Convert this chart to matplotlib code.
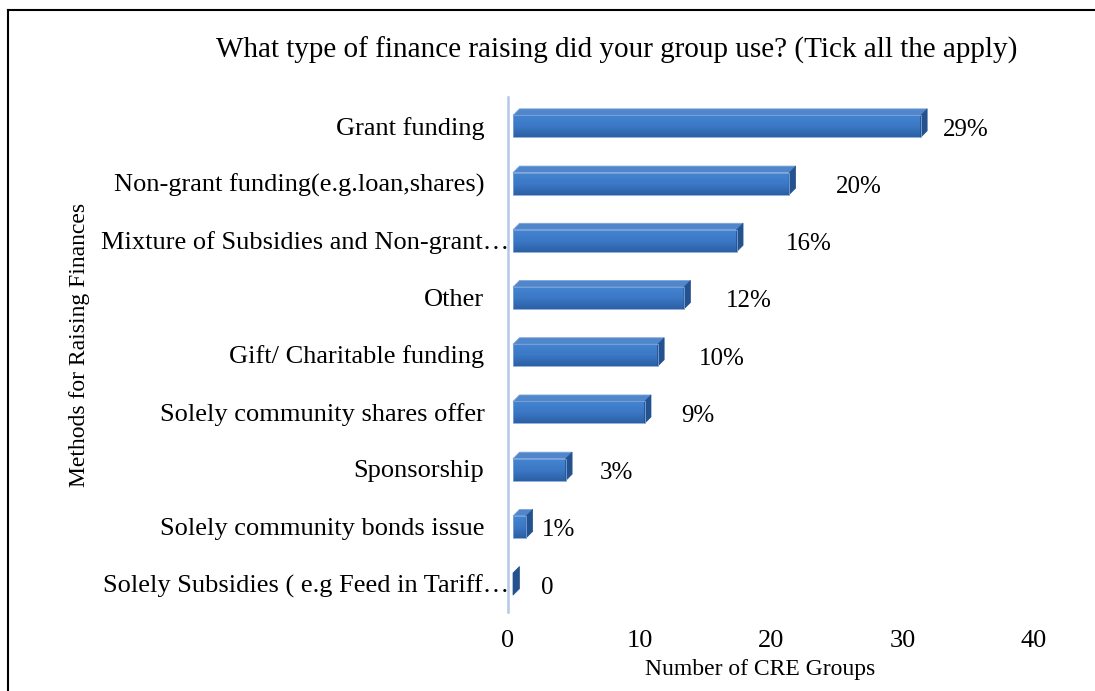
import matplotlib
matplotlib.use("Agg")
import matplotlib.pyplot as plt
import matplotlib.transforms as mtransforms
import numpy as np
from matplotlib.patches import Polygon, Rectangle
from matplotlib.lines import Line2D

plt.rcParams['font.family'] = ['Liberation Serif', 'DejaVu Serif']

categories = [
    "Grant funding",
    "Non-grant funding(e.g.loan,shares)",
    "Mixture of Subsidies and Non-grant\u2026",
    "Other",
    "Gift/ Charitable funding",
    "Solely community shares offer",
    "Sponsorship",
    "Solely community bonds issue",
    "Solely Subsidies ( e.g Feed in Tariff\u2026",
]
group_counts = [31, 21, 17, 13, 11, 10, 4, 1, 0]
share_labels = ["29%", "20%", "16%", "12%", "10%", "9%", "3%", "1%", "0"]
x_ticks = [0, 10, 20, 30, 40]

# gap (pixels) between each bar end and its data label
label_gap_px = [16, 40, 43, 35, 35, 30, 28, 9, 21]

W, H = 1095, 691
fig = plt.figure(figsize=(W / 100, H / 100), dpi=100)

ax_l, ax_r, ax_t, ax_b = 508, 1034, 97, 612
ax = fig.add_axes([ax_l / W, 1 - ax_b / H, (ax_r - ax_l) / W, (ax_b - ax_t) / H])
ax.set_xlim(0, 40)
ax.set_ylim(len(categories) - 0.5, -0.5)

px_per_x = (ax_r - ax_l) / 40.0
px_per_y = (ax_b - ax_t) / len(categories)
depth_px = 6.5
dx = depth_px / px_per_x
dy = depth_px / px_per_y
bar_h = 22.0 / px_per_y
x_shift = 5.0 / px_per_x  # small gap between wall and bar front

front_top = "#4384D0"
front_bot = "#2C5FA3"
top_col = "#4F86CC"
side_col = "#24528F"

grad = np.linspace(0, 1, 64).reshape(-1, 1)
cmap = matplotlib.colors.LinearSegmentedColormap.from_list(
    "barfront", [front_top, "#3B78C6", front_bot])

for i, v in enumerate(group_counts):
    yc = i + dy / 2 - 2.5 / px_per_y
    y0, y1 = yc - bar_h / 2, yc + bar_h / 2  # y0 = upper edge (inverted axis)
    xa, xb = x_shift, x_shift + v
    # top face
    top = Polygon([(xa, y0), (xb, y0), (xb + dx, y0 - dy), (xa + dx, y0 - dy)],
                  closed=True, facecolor=top_col, edgecolor="#7FA5D8",
                  linewidth=0.6, zorder=2)
    ax.add_patch(top)
    # front face with vertical gradient
    if v > 0:
        rect = Rectangle((xa, y0), v, bar_h, facecolor="none",
                         edgecolor="#7FA5D8", linewidth=0.6, zorder=4)
        ax.add_patch(rect)
        im = ax.imshow(grad, extent=(xa, xb, y1, y0), aspect="auto",
                       cmap=cmap, zorder=3, interpolation="bilinear")
        im.set_clip_path(rect)
    # side face
    side = Polygon([(xb, y0), (xb + dx, y0 - dy), (xb + dx, y1 - dy), (xb, y1)],
                   closed=True, facecolor=side_col, edgecolor=side_col,
                   linewidth=0.5, zorder=3)
    ax.add_patch(side)
    # data label
    ax.annotate(share_labels[i], xy=(xb + dx, i), xytext=(label_gap_px[i] * 0.72, -3),
                textcoords="offset points", ha="left", va="center",
                fontsize=18, color="#000000")

ax.set_xlim(0, 40)
ax.set_ylim(len(categories) - 0.5, -0.5)

ax.set_yticks(range(len(categories)))
ax.set_yticklabels(categories, fontsize=19)
ax.set_xticks(x_ticks)
ax.set_xticklabels([str(t) for t in x_ticks], fontsize=19)
ax.tick_params(axis="both", length=0)
ax.tick_params(axis="y", pad=17)
ax.tick_params(axis="x", pad=13)

# truncated labels: let the ellipsis run up to the axis wall
shift = mtransforms.ScaledTranslation(25 / 100, 0, fig.dpi_scale_trans)
for lab in ax.get_yticklabels():
    if lab.get_text().endswith("\u2026"):
        lab.set_transform(lab.get_transform() + shift)

for s in ["top", "right", "bottom"]:
    ax.spines[s].set_visible(False)
ax.spines["left"].set_color("#B4C7E7")
ax.spines["left"].set_linewidth(1.8)

fig.text(617 / W, 1 - 50 / H, "What type of finance raising did your group use? (Tick all the apply)",
         ha="center", va="center", fontsize=21)
fig.text(760 / W, 1 - 670 / H, "Number of CRE Groups", ha="center", va="center", fontsize=17)
fig.text(80 / W, 1 - 345 / H, "Methods for Raising Finances", ha="center", va="center",
         rotation=90, fontsize=17)

# outer frame (left and top edges)
fig.add_artist(Line2D([8 / W, 8 / W], [0, 1 - 10 / H], color="black", linewidth=1.5,
                      transform=fig.transFigure))
fig.add_artist(Line2D([8 / W, 1], [1 - 10 / H, 1 - 10 / H], color="black", linewidth=1.5,
                      transform=fig.transFigure))

fig.savefig("out.png", dpi=100, facecolor="white")
